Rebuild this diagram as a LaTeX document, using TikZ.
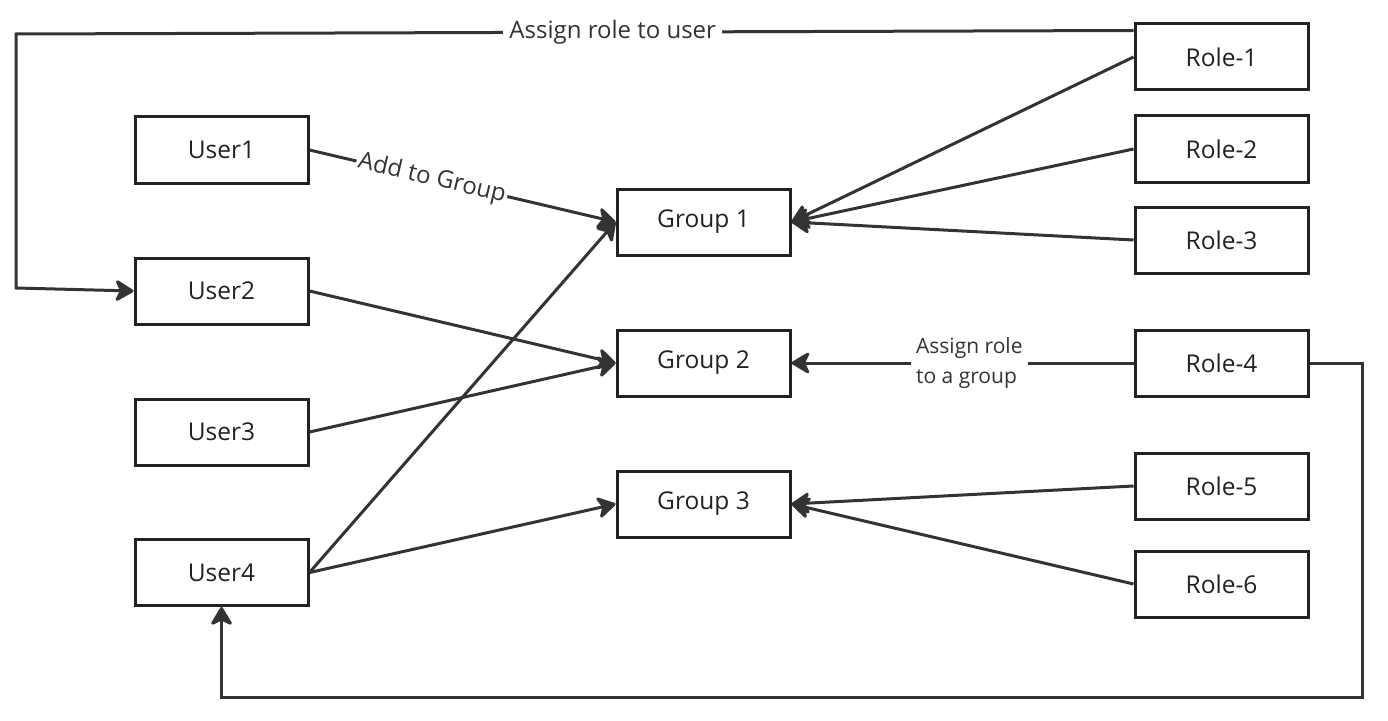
\documentclass[tikz,border=0pt]{standalone}
\usepackage{fontspec}
\setmainfont{Open Sans}
\usetikzlibrary{arrows.meta,calc}
\definecolor{ln}{HTML}{333333}
\definecolor{bx}{HTML}{222222}
\begin{document}
\begin{tikzpicture}[x=1bp,y=-1bp,
  box/.style={draw=bx,line width=3bp,minimum width=173bp,minimum height=66bp,inner sep=0pt,font=\fontsize{24.5bp}{29bp}\selectfont,text=bx},
  conn/.style={draw=ln,line width=3bp,-{Stealth[length=21bp,width=25bp,inset=6bp,round]}},
  lbl/.style={fill=white,inner sep=4bp,text=ln}]
\useasboundingbox (0,0) rectangle (1388,720);
% users
\node[box] (User1) at (221.5,150) {User1};
\node[box] (User2) at (221.5,291) {User2};
\node[box] (User3) at (221.5,432) {User3};
\node[box] (User4) at (221.5,572.5) {User4};
% groups
\node[box] (Group1) at (703.5,222) {Group 1};
\node[box] (Group2) at (703.5,363) {Group 2};
\node[box] (Group3) at (703.5,504) {Group 3};
% roles
\node[box] (Role1) at (1221.5,57) {Role-1};
\node[box] (Role2) at (1221.5,149) {Role-2};
\node[box] (Role3) at (1221.5,240) {Role-3};
\node[box] (Role4) at (1221.5,363) {Role-4};
\node[box] (Role5) at (1221.5,486) {Role-5};
\node[box] (Role6) at (1221.5,584) {Role-6};
% user -> group
\draw[conn] (User1.east) -- node[lbl,sloped,pos=0.4,font=\fontsize{24bp}{28bp}\selectfont,inner sep=2bp] {Add to Group} (Group1.west);
\draw[conn] (User2.east) -- (Group2.west);
\draw[conn] (User3.east) -- (Group2.west);
\draw[conn] (User4.east) -- (Group1.west);
\draw[conn] (User4.east) -- (Group3.west);
% role -> group
\draw[conn] (Role1.west) -- (Group1.east);
\draw[conn] (Role2.west) -- (Group1.east);
\draw[conn] (Role3.west) -- (Group1.east);
\draw[conn] (Role4.west) -- node[lbl,pos=0.48,align=left,font=\fontsize{21bp}{30bp}\selectfont,inner sep=5bp] {Assign role\\to a group} (Group2.east);
\draw[conn] (Role5.west) -- (Group3.east);
\draw[conn] (Role6.west) -- (Group3.east);
% assign role to user
\coordinate (c1) at (16,34);
\coordinate (c2) at (16,288);
\draw[conn] ([yshift=-8bp]Role1.north west) -- node[lbl,pos=0.466,font=\fontsize{24bp}{28bp}\selectfont,inner sep=6bp] {Assign role to user} (c1) -- (c2) -- (User2.west);
% role-4 -> user4
\coordinate (d1) at (1362,363);
\coordinate (d2) at (1362,697);
\coordinate (d3) at (221.5,697);
\draw[conn] (Role4.east) -- (d1) -- (d2) -- (d3) -- (User4.south);
\end{tikzpicture}
\end{document}
